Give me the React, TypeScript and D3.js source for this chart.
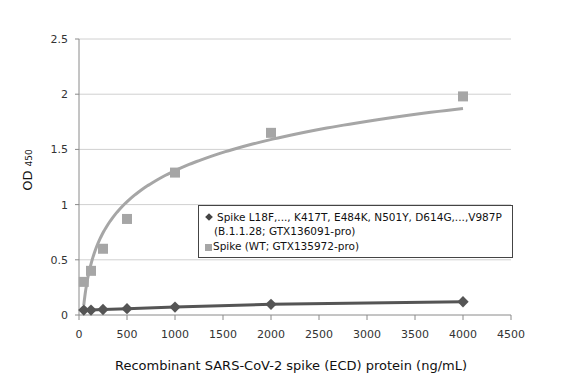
import React from "react";
import * as d3 from "d3";

const concentrations = [50, 125, 250, 500, 1000, 2000, 4000];
const variantOD = [0.045, 0.045, 0.05, 0.057, 0.072, 0.097, 0.12];
const wtOD = [0.3, 0.4, 0.6, 0.87, 1.29, 1.65, 1.98];
const xTicks = [0, 500, 1000, 1500, 2000, 2500, 3000, 3500, 4000, 4500];
const yTicks = [0, 0.5, 1, 1.5, 2, 2.5];
const legendVariant = ["Spike L18F,...,  K417T, E484K, N501Y, D614G,...,V987P", "(B.1.1.28; GTX136091-pro)"];
const legendWT = "Spike (WT; GTX135972-pro)";
const xTitle = "Recombinant SARS-CoV-2 spike (ECD) protein (ng/mL)";

const W = 582, H = 382;
const L = 79, R = 511, T = 39, B = 315;

export default function App() {
  const x = d3.scaleLinear().domain([0, 4500]).range([L, R]);
  const y = d3.scaleLinear().domain([0, 2.5]).range([B, T]);

  // logarithmic trendline fitted to the WT data
  const lx = concentrations.map(Math.log);
  const mx = d3.mean(lx)!;
  const my = d3.mean(wtOD)!;
  const a = d3.sum(lx.map((v, i) => (v - mx) * (wtOD[i] - my))) / d3.sum(lx.map(v => (v - mx) ** 2));
  const b = my - a * mx;
  const trendX = d3.range(0, 201).map(i => 50 * Math.pow(4000 / 50, i / 200));
  const trendPath = d3.line<number>().x(v => x(v)).y(v => y(a * Math.log(v) + b))(trendX)!;

  const varPath = d3.line<number>().x((_, i) => x(concentrations[i])).y(v => y(v))(variantOD)!;
  const diamond = d3.symbol(d3.symbolSquare, 64)()!;
  const legendDiamond = d3.symbol(d3.symbolSquare, 30)()!;

  const font = "'DejaVu Sans', sans-serif";
  const gridColor = "#d0d0d0";
  const axisColor = "#8a8a8a";

  return (
    <svg width={W} height={H} style={{ position: "absolute", left: 0, top: 0, background: "#fff" }}>
      <rect x={0} y={0} width={W} height={H} fill="#fff" />
      {yTicks.filter(t => t > 0).map(t => (
        <line key={t} x1={L} x2={R} y1={y(t)} y2={y(t)} stroke={gridColor} strokeWidth={1} />
      ))}
      <line x1={L} x2={L} y1={T} y2={B} stroke={axisColor} />
      <line x1={L} x2={R} y1={B} y2={B} stroke={axisColor} />
      {yTicks.map(t => (
        <g key={t}>
          <line x1={L - 4} x2={L} y1={y(t)} y2={y(t)} stroke={axisColor} />
          <text x={68} y={y(t) + 4} textAnchor="end" fontFamily={font} fontSize={11} fill="#333">{t}</text>
        </g>
      ))}
      {xTicks.map(t => (
        <g key={t}>
          <line x1={x(t)} x2={x(t)} y1={B} y2={B + 5} stroke={axisColor} />
          <text x={x(t)} y={338} textAnchor="middle" fontFamily={font} fontSize={11} fill="#333">{t}</text>
        </g>
      ))}
      <path d={trendPath} fill="none" stroke="#a6a6a6" strokeWidth={3} />
      {concentrations.map((c, i) => (
        <rect key={c} x={x(c) - 5} y={y(wtOD[i]) - 5} width={10} height={10} fill="#a6a6a6" />
      ))}
      <path d={varPath} fill="none" stroke="#555" strokeWidth={3} />
      {concentrations.map((c, i) => (
        <path key={c} d={diamond} transform={`translate(${x(c)},${y(variantOD[i])}) rotate(45)`} fill="#555" />
      ))}
      <g>
        <rect x={198.5} y={205.5} width={314} height={52} fill="#fff" stroke="#444" />
        <path d={legendDiamond} transform="translate(209,217) rotate(45)" fill="#444" />
        <text x={217} y={221} fontFamily={font} fontSize={10.5} fill="#111">{legendVariant[0]}</text>
        <text x={214} y={235} fontFamily={font} fontSize={10.5} fill="#111">{legendVariant[1]}</text>
        <rect x={205} y={244} width={7} height={7} fill="#a6a6a6" />
        <text x={213} y={250} fontFamily={font} fontSize={10.5} fill="#111">{legendWT}</text>
      </g>
      <text x={291} y={370} textAnchor="middle" fontFamily={font} fontSize={13} fill="#111">{xTitle}</text>
      <text transform="translate(32,170) rotate(-90)" textAnchor="middle" fontFamily={font} fontSize={13} fill="#111">
        OD <tspan fontSize={9} dy={0}>450</tspan>
      </text>
    </svg>
  );
}
